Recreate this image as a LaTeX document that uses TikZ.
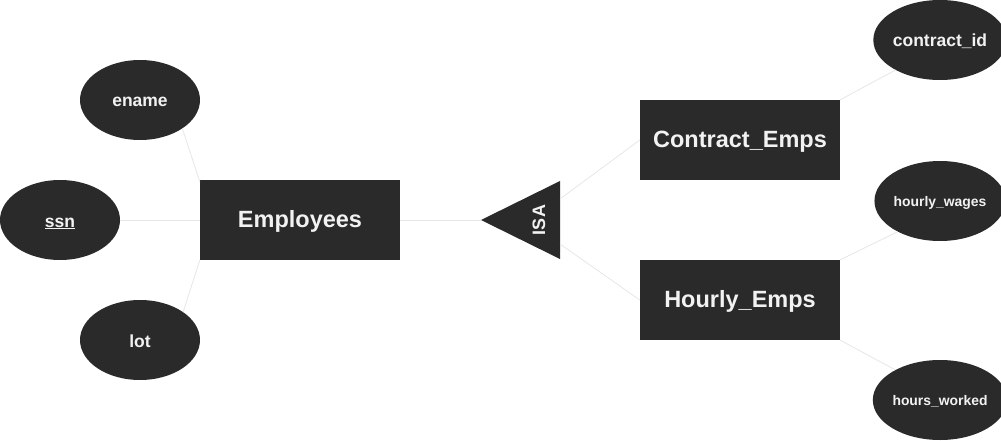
\documentclass[tikz,border=0pt]{standalone}
\usepackage{fontspec}
\setmainfont{Liberation Sans}
\usetikzlibrary{shapes.geometric}
\definecolor{boxfill}{HTML}{2A2A2A}
\definecolor{linkgray}{HTML}{E6E6E6}
\definecolor{txt}{HTML}{F2F2F2}
\begin{document}
\begin{tikzpicture}[x=1pt,y=-1pt,
  entity/.style={fill=boxfill, minimum width=200pt, minimum height=80pt, inner sep=0pt, text=txt,
    text height=14.6pt, text depth=0pt,
    font=\fontsize{23.5}{28}\selectfont\bfseries},
  attr/.style={ellipse, fill=boxfill, minimum width=120pt, minimum height=80pt, inner sep=0pt, text=txt,
    text height=14pt, text depth=0pt,
    font=\fontsize{17.5}{21}\selectfont\bfseries},
  smallattr/.style={attr, text height=11pt, font=\fontsize{13.9}{17}\selectfont\bfseries},
  link/.style={draw=linkgray, line width=0.8pt}]
\useasboundingbox (0,0) rectangle (1001,441);

% entities
\node[entity] (emp) at (300,220) {Employees};
\node[entity] (con) at (740,140) {Contract\_Emps};
\node[entity] (hour) at (740,300) {Hourly\_Emps};

% attributes
\node[attr] (ename) at (140,100) {ename};
\node[attr] (ssn) at (60,220) {\underline{ssn}};
\node[attr] (lot) at (140,340) {lot};
\node[attr] (cid) at (940,40) {contract\_id};
\node[smallattr] (wages) at (940,201) {hourly\_wages};
\node[smallattr] (worked) at (940,400) {hours\_worked};

% ISA triangle
\coordinate (isaL) at (481,220);
\coordinate (isaT) at (560,181);
\coordinate (isaB) at (560,259);
\coordinate (isaR1) at (560,199);
\coordinate (isaR2) at (560,244);
\fill[boxfill] (isaL) -- (isaT) -- (isaB) -- cycle;
\node[text=txt, rotate=90, font=\fontsize{18}{21}\selectfont\bfseries] (isa) at (539,220) {ISA};

% connectors
\draw[link] (ename.-34) -- ([yshift=-2pt]emp.north west);
\draw[link] (ssn.east) -- (emp.west);
\draw[link] (lot.33) -- (emp.south west);
\draw[link] (emp.east) -- (isaL);
\draw[link] (isaR1) -- (con.west);
\draw[link] (isaR2) -- (hour.west);
\draw[link] (con.north east) -- (cid.-146);
\draw[link] (hour.north east) -- (wages.216);
\draw[link] (hour.south east) -- (worked.146);
\end{tikzpicture}
\end{document}
